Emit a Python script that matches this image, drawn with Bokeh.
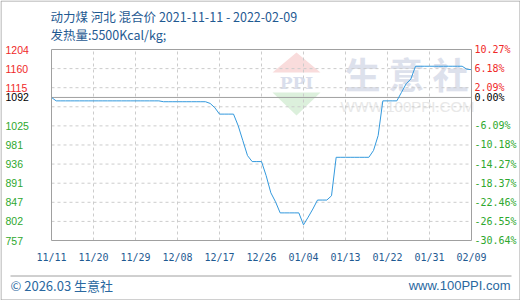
import pandas as pd
from bokeh.plotting import figure
from bokeh.models import Range1d, ColumnDataSource
from bokeh.core.properties import value
from bokeh.embed import file_html
from bokeh.resources import INLINE

# ---- texts ----
title_line1 = "动力煤 河北 混合价 2021-11-11 - 2022-02-09"
title_line2 = "发热量:5500Kcal/kg;"
footer_left = "© 2026.03 生意社"
footer_right = "www.100PPI.com"

# ---- daily mixed price, 2021-11-11 .. 2022-02-09 ----
dates = pd.date_range("2021-11-11", "2022-02-09", freq="D")
prices = [
    1092,
    1084, 1084, 1084, 1084, 1084, 1084, 1084, 1084, 1084, 1084,
    1084, 1084, 1084, 1084, 1084, 1084, 1084, 1084, 1084, 1084,
    1084, 1084, 1084,
    1082, 1082, 1082, 1082, 1082, 1082, 1082, 1082, 1082, 1082,
    1078, 1068,
    1053, 1053, 1053, 1053,
    1026, 991, 956,
    942, 942, 942,
    909, 869, 848,
    822, 822, 822, 822, 822,
    794, 812, 831,
    852, 852, 852,
    862,
    952, 952, 952, 952, 952, 952, 952, 952,
    968, 1003,
    1084, 1084, 1084, 1084,
    1104, 1124, 1135,
    1165, 1165, 1165, 1165, 1165, 1165, 1165, 1165, 1165, 1165, 1165,
    1158, 1157,
]

# ---- axis ticks ----
x_tick_labels = ["11/11", "11/20", "11/29", "12/08", "12/17", "12/26",
                 "01/04", "01/13", "01/22", "01/31", "02/09"]
base_price = 1092
price_tick_labels = ["1204", "1160", "1115", "1092", "1025", "981",
                     "936", "891", "847", "802", "757"]
pct_tick_labels = ["10.27%", "6.18%", "2.09%", "0.00%", "-6.09%", "-10.18%",
                   "-14.27%", "-18.37%", "-22.46%", "-26.55%", "-30.64%"]
grid_pcts = [6.18, 2.09, -2.00, -6.09, -10.18, -14.27, -18.37, -22.46, -26.55]

RED, GREEN, BLACK = "#f02828", "#2ea82e", "#000000"
BLUE_TEXT = "#1f5a92"
FOOT_BLUE = "#2a68a0"
LINE_BLUE = "#3399dd"
FRAME_GRAY = "#a0a0a0"
GRID_GRAY = "#cccccc"

days = [(d - dates[0]).days for d in dates]
day_labels = [d.strftime("%m/%d") for d in dates]
x_ticks = [days[day_labels.index(t)] for t in x_tick_labels]

pct_values = [float(s.rstrip("%")) for s in pct_tick_labels]
tick_y = [base_price * (1 + v / 100) for v in pct_values]
grid_y = [base_price * (1 + v / 100) for v in grid_pcts]
y_min, y_max = min(tick_y), max(tick_y)
d0, d1 = days[0], days[-1]

# ---- canvas layout (pixels): plot box inside a 520x300 card ----
W, H = 520, 300
FL, FR, FT, FB = 51, 471, 49, 240


def px_x(px):
    return d0 + (px - FL) * (d1 - d0) / (FR - FL)


def px_y(py):
    return y_min + (FB - py) * (y_max - y_min) / (FB - FT)


p = figure(width=W, height=H, output_backend="svg", toolbar_location=None,
           x_range=Range1d(px_x(0), px_x(W)), y_range=Range1d(px_y(H), px_y(0)),
           min_border=0, x_axis_location=None, y_axis_location=None,
           background_fill_color="white", border_fill_color="white",
           outline_line_color=None)
p.grid.visible = False

# watermark logo and name (drawn first, under everything)
cx = 296
p.patches(xs=[[px_x(cx - 24), px_x(cx), px_x(cx + 24)],
              [px_x(cx - 24), px_x(cx), px_x(cx + 24)]],
          ys=[[px_y(72), px_y(52), px_y(72)],
              [px_y(92), px_y(115), px_y(92)]],
          fill_color=["#f9dcdc", "#dcf0dc"], line_color=None)
p.text(x=[px_x(cx)], y=[px_y(82)], text=["PPI"], text_align="center",
       text_baseline="middle", text_font=value("DejaVu Serif"),
       text_font_style="bold", text_font_size="17px", text_color="#d9deec")
p.text(x=[px_x(362), px_x(406), px_x(450)], y=[px_y(72)] * 3,
       text=["生", "意", "社"], text_align="center", text_baseline="middle",
       text_font=value("Noto Sans CJK SC"), text_font_style="bold",
       text_font_size="36px", text_color="#dde1ec")
p.text(x=[px_x(407)], y=[px_y(106)], text=["WWW.100PPI.COM"],
       text_align="center", text_baseline="middle",
       text_font=value("Liberation Sans"), text_font_size="15px",
       text_color="#e8e8e8")

# dashed grid
inner_x = x_ticks[1:-1]
p.segment(x0=inner_x, x1=inner_x, y0=[y_min] * len(inner_x),
          y1=[y_max] * len(inner_x), line_color=GRID_GRAY, line_width=1,
          line_dash="3 3")
p.segment(x0=[d0] * len(grid_y), x1=[d1] * len(grid_y), y0=grid_y, y1=grid_y,
          line_color=GRID_GRAY, line_width=1, line_dash="3 3")

# base price line
p.segment(x0=[d0], x1=[d1], y0=[base_price], y1=[base_price],
          line_color=FRAME_GRAY, line_width=1)

# price series
p.line(days, prices, line_color=LINE_BLUE, line_width=1)

# plot box
p.quad(left=[d0], right=[d1], bottom=[y_min], top=[y_max], fill_color=None,
       line_color=FRAME_GRAY, line_width=1)

# tick labels on both sides, coloured relative to the base price
colors = [RED if v > 0 else (GREEN if v < 0 else BLACK) for v in pct_values]
tick_src = ColumnDataSource(dict(
    xl=[px_x(5)] * len(tick_y), xr=[px_x(474)] * len(tick_y), y=tick_y,
    price=price_tick_labels, pct=pct_tick_labels, color=colors))
p.text(x="xl", y="y", text="price", source=tick_src, text_align="left",
       text_baseline="middle", text_font=value("Liberation Sans"),
       text_font_size="10.5px", text_color="color")
p.text(x="xr", y="y", text="pct", source=tick_src, text_align="left",
       text_baseline="middle", text_font=value("DejaVu Sans Mono"),
       text_font_size="10px", text_color="color")

# date labels
p.text(x=x_ticks, y=[px_y(257)] * len(x_ticks), text=x_tick_labels,
       text_align="center", text_baseline="middle",
       text_font=value("DejaVu Sans Mono"), text_font_size="10px",
       text_color=BLUE_TEXT)

# titles
p.text(x=[px_x(50), px_x(50)], y=[px_y(15.5), px_y(34)],
       text=[title_line1, title_line2], text_align="left",
       text_baseline="middle", text_font=value("Noto Sans CJK SC"),
       text_font_size="12.5px", text_color=BLUE_TEXT)

# footer
p.segment(x0=[px_x(10)], x1=[px_x(511)], y0=[px_y(275.5)], y1=[px_y(275.5)],
          line_color=FRAME_GRAY, line_width=1)
p.text(x=[px_x(10)], y=[px_y(285)], text=[footer_left], text_align="left",
       text_baseline="middle", text_font=value("Noto Sans CJK SC"),
       text_font_size="13px", text_color=FOOT_BLUE)
p.text(x=[px_x(510)], y=[px_y(285)], text=[footer_right], text_align="right",
       text_baseline="middle", text_font=value("Liberation Sans"),
       text_font_size="13px", text_color=FOOT_BLUE)

# card border
p.quad(left=[px_x(0.5)], right=[px_x(519.5)], bottom=[px_y(299.5)],
       top=[px_y(0.5)], fill_color=None, line_color=FRAME_GRAY, line_width=1)

open("out.html", "w").write(file_html(p, INLINE))
